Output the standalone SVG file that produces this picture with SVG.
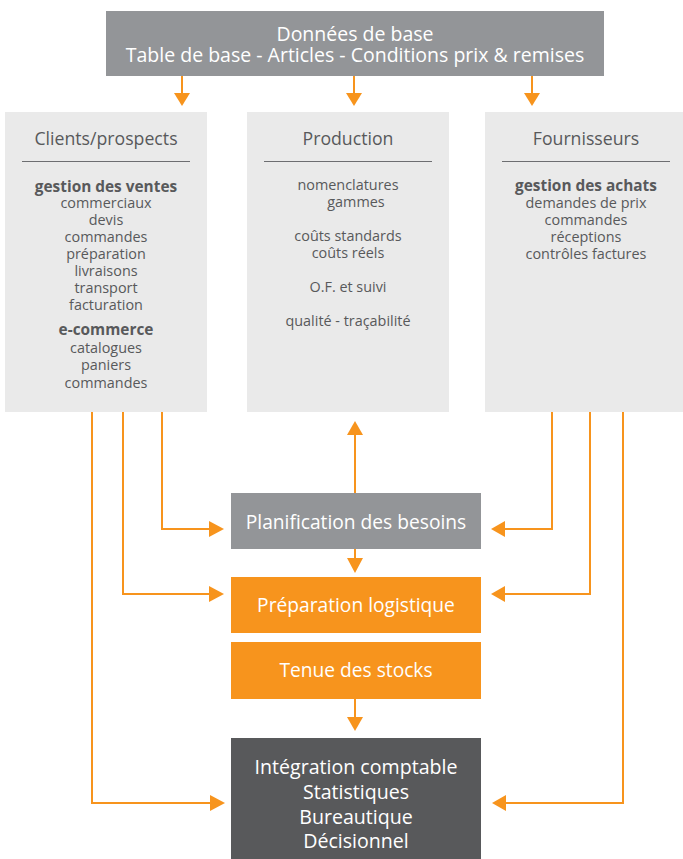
<svg xmlns="http://www.w3.org/2000/svg" width="683" height="859" viewBox="0 0 683 859">
<defs>
<style>
.t{font-family:"Open Sans","Liberation Sans",sans-serif;text-anchor:middle}
.hd{font-size:17.7px;fill:#58595b}
.b{font-size:14.4px;fill:#58595b}
.bb{font-size:15.4px;font-weight:bold;fill:#58595b}
.w{fill:#ffffff;font-size:19.2px}
.col{fill:#eaeaea}
.sep{stroke:#6d6e71;stroke-width:1.2}
.c{fill:none;stroke:#f7941d;stroke-width:2}
.ah{fill:#f7941d}
</style>
</defs>
<rect width="683" height="859" fill="#ffffff"/>

<g id="donnees">
<rect x="106" y="11" width="498" height="65" fill="#939598"/>
<text class="t w" x="355" y="41" style="font-size:19.5px">Données de base</text>
<text class="t w" x="355" y="62" style="font-size:19.5px">Table de base - Articles - Conditions prix &amp; remises</text>
</g>

<g id="clients">
<rect class="col" x="5" y="112" width="202" height="300"/>
<text class="t hd" x="106" y="145">Clients/prospects</text>
<line class="sep" x1="22" y1="161.5" x2="190" y2="161.5"/>
<text class="t bb" x="106" y="192">gestion des ventes</text>
<text class="t b" x="106" y="208">commerciaux</text>
<text class="t b" x="106" y="225">devis</text>
<text class="t b" x="106" y="242">commandes</text>
<text class="t b" x="106" y="259">préparation</text>
<text class="t b" x="106" y="276">livraisons</text>
<text class="t b" x="106" y="293">transport</text>
<text class="t b" x="106" y="310">facturation</text>
<text class="t bb" x="106" y="335">e-commerce</text>
<text class="t b" x="106" y="353">catalogues</text>
<text class="t b" x="106" y="370">paniers</text>
<text class="t b" x="106" y="388">commandes</text>
</g>

<g id="production">
<rect class="col" x="247" y="112" width="202" height="300"/>
<text class="t hd" x="348" y="145">Production</text>
<line class="sep" x1="264" y1="161.5" x2="432" y2="161.5"/>
<text class="t b" x="348" y="190">nomenclatures</text>
<text class="t b" x="356" y="207">gammes</text>
<text class="t b" x="348" y="241">coûts standards</text>
<text class="t b" x="348" y="258">coûts réels</text>
<text class="t b" x="348" y="292">O.F. et suivi</text>
<text class="t b" x="348" y="326">qualité - traçabilité</text>
</g>

<g id="fournisseurs">
<rect class="col" x="485" y="112" width="198" height="300"/>
<text class="t hd" x="586" y="145">Fournisseurs</text>
<line class="sep" x1="502" y1="161.5" x2="670" y2="161.5"/>
<text class="t bb" x="586" y="191">gestion des achats</text>
<text class="t b" x="586" y="208">demandes de prix</text>
<text class="t b" x="586" y="225">commandes</text>
<text class="t b" x="586" y="242">réceptions</text>
<text class="t b" x="586" y="259">contrôles factures</text>
</g>

<g id="planification">
<rect x="231" y="493" width="250" height="56" fill="#939598"/>
<text class="t w" x="356" y="529">Planification des besoins</text>
</g>

<g id="preparation">
<rect x="231" y="577" width="250" height="56" fill="#f7941d"/>
<text class="t w" x="356" y="612">Préparation logistique</text>
</g>

<g id="stocks">
<rect x="231" y="642" width="250" height="57" fill="#f7941d"/>
<text class="t w" x="356" y="677">Tenue des stocks</text>
</g>

<g id="integration">
<rect x="231" y="738" width="250" height="121" fill="#58595b"/>
<text class="t w" x="356" y="774" style="font-size:19.6px">Intégration comptable</text>
<text class="t w" x="356" y="799" style="font-size:19.6px">Statistiques</text>
<text class="t w" x="356" y="824" style="font-size:19.6px">Bureautique</text>
<text class="t w" x="356" y="848" style="font-size:19.6px">Décisionnel</text>
</g>

<g id="connectors">
<line class="c" x1="182" y1="76" x2="182" y2="94"/>
<polygon class="ah" points="174,93 190,93 182,106"/>
<line class="c" x1="354" y1="76" x2="354" y2="94"/>
<polygon class="ah" points="346,93 362,93 354,106"/>
<line class="c" x1="532" y1="76" x2="532" y2="94"/>
<polygon class="ah" points="524,93 540,93 532,106"/>
<line class="c" x1="355" y1="493" x2="355" y2="434"/>
<polygon class="ah" points="347,435 363,435 355,421"/>
<line class="c" x1="355" y1="549" x2="355" y2="559"/>
<polygon class="ah" points="347,558 363,558 355,573"/>
<line class="c" x1="355" y1="699" x2="355" y2="718"/>
<polygon class="ah" points="347,717 363,717 355,731"/>
<polyline class="c" points="162,412 162,529 210,529"/>
<polygon class="ah" points="209,521 209,537 224,529"/>
<polyline class="c" points="123,412 123,594 210,594"/>
<polygon class="ah" points="209,586 209,602 224,594"/>
<polyline class="c" points="92,412 92,803 211,803"/>
<polygon class="ah" points="210,795 210,811 225,803"/>
<polyline class="c" points="552,412 552,529 504,529"/>
<polygon class="ah" points="505,521 505,537 491,529"/>
<polyline class="c" points="590,412 590,594 504,594"/>
<polygon class="ah" points="505,586 505,602 491,594"/>
<polyline class="c" points="623,412 623,803 505,803"/>
<polygon class="ah" points="506,795 506,811 492,803"/>
</g>
</svg>
